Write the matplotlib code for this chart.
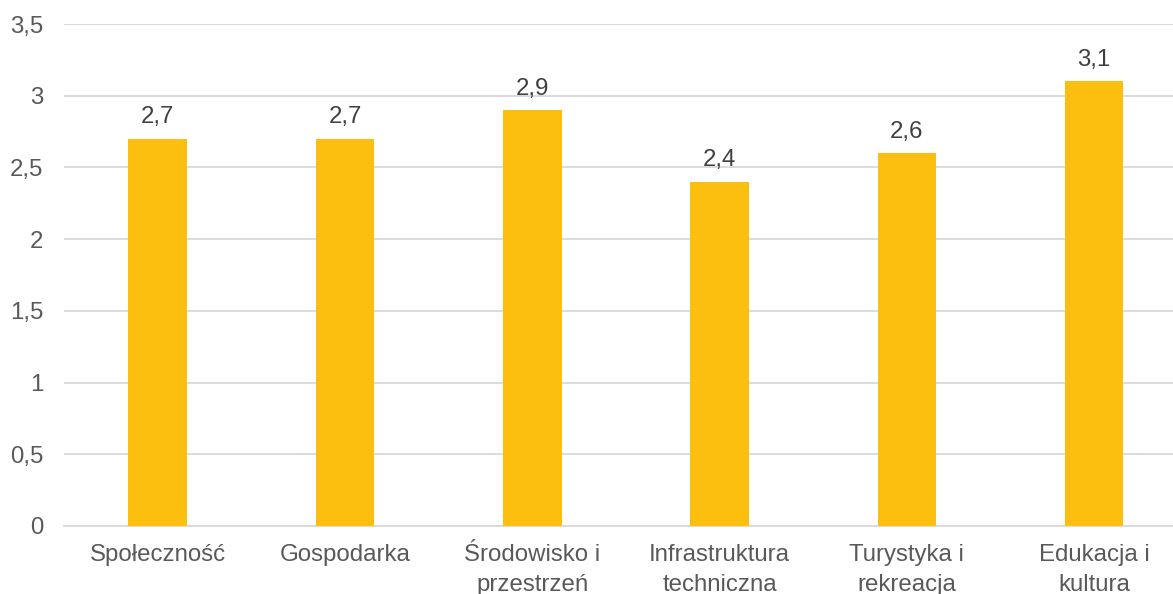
import matplotlib
matplotlib.use("Agg")
import matplotlib.pyplot as plt
from matplotlib.ticker import FuncFormatter, MultipleLocator

categories = ["Społeczność", "Gospodarka", "Środowisko i\nprzestrzeń",
              "Infrastruktura\ntechniczna", "Turystyka i\nrekreacja", "Edukacja i\nkultura"]
values = [2.7, 2.7, 2.9, 2.4, 2.6, 3.1]

plt.rcParams['font.family'] = ['Liberation Sans', 'DejaVu Sans']
FS = 17.3

W, H = 1173, 594
fig = plt.figure(figsize=(W / 100, H / 100), dpi=100)
left_px, right_px, top_px, bottom_px = 64, 1173, 24, 526
ax = fig.add_axes([left_px / W, (H - bottom_px) / H, (right_px - left_px) / W, (bottom_px - top_px) / H])

x = list(range(len(categories)))
ax.bar(x, values, width=0.313, color="#FCBF10", zorder=3)

span = (right_px - left_px) / 187.3
ax.set_xlim(-0.5, -0.5 + span)
ax.set_ylim(0, 3.5)
ax.yaxis.set_major_locator(MultipleLocator(0.5))

def fmt(v, pos):
    s = f"{v:g}"
    return s.replace(".", ",")

ax.yaxis.set_major_formatter(FuncFormatter(fmt))
ax.grid(axis="y", color="#D9D9D9", linewidth=1.3, zorder=0)
ax.set_axisbelow(True)
for s in ["top", "right", "left"]:
    ax.spines[s].set_visible(False)
ax.spines["bottom"].set_color("#D9D9D9")
ax.spines["bottom"].set_linewidth(1.3)

ax.set_xticks(x)
ax.set_xticklabels(categories, linespacing=1.45)
ax.tick_params(axis="x", length=0, pad=13, labelsize=FS, labelcolor="#595959")
ax.tick_params(axis="y", length=0, pad=15, labelsize=FS, labelcolor="#595959")

for xi, v in zip(x, values):
    ax.annotate(fmt(v, None), (xi, v), xytext=(0, 11), textcoords="offset points",
                ha="center", va="baseline", fontsize=FS, color="#404040")

fig.savefig("out.png", dpi=100)
